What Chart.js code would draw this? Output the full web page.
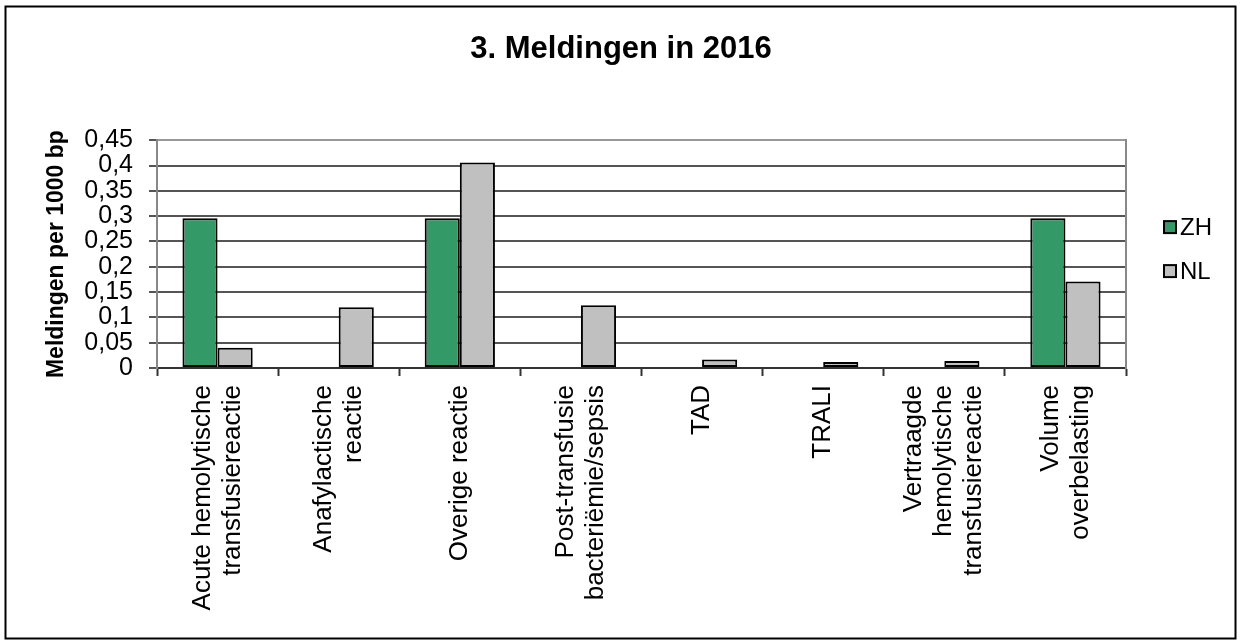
<!DOCTYPE html>
<html>
<head>
<meta charset="utf-8">
<script src="https://cdn.jsdelivr.net/npm/chart.js@4/dist/chart.umd.min.js"></script>
<style>
  html, body { margin: 0; padding: 0; background: #fff; }
</style>
</head>
<body>
<canvas id="meldingenChart" width="1242" height="641"></canvas>
<script>
// data
const categories = [
  ['Acute hemolytische', 'transfusiereactie'],
  ['Anafylactische', 'reactie'],
  ['Overige reactie'],
  ['Post-transfusie', 'bacteriëmie/sepsis'],
  ['TAD'],
  ['TRALI'],
  ['Vertraagde', 'hemolytische', 'transfusiereactie'],
  ['Volume', 'overbelasting']
];
const seriesNames = ['ZH', 'NL'];
const zhValues = [0.296, 0, 0.296, 0, 0, 0, 0, 0.296];
const nlValues = [0.04, 0.12, 0.406, 0.124, 0.017, 0.012, 0.014, 0.171];
const yMax = 0.45;
const yStep = 0.05;

const FONT = '"Liberation Sans", Arial, sans-serif';

const fmt = v => Number(v.toFixed(2)).toString().replace('.', ',');

// outer frame, rotated category labels and the legend
const extras = {
  id: 'extras',
  afterDraw(chart) {
    const ctx = chart.ctx;
    const area = chart.chartArea;
    const xScale = chart.scales.x;
    ctx.save();

    ctx.strokeStyle = '#000';
    ctx.lineWidth = 2;
    ctx.strokeRect(5.5, 6.5, 1230, 632);

    // category labels, rotated, block centred on the category
    ctx.font = '26px ' + FONT;
    ctx.fillStyle = '#000';
    ctx.textAlign = 'right';
    ctx.textBaseline = 'middle';
    const lh = 30;
    categories.forEach((lines, i) => {
      const cx = xScale.getPixelForValue(i);
      ctx.save();
      ctx.translate(cx, area.bottom + 17);
      ctx.rotate(-Math.PI / 2);
      lines.forEach((line, j) => {
        ctx.fillText(line, 0, (j - (lines.length - 1) / 2) * lh);
      });
      ctx.restore();
    });

    // legend
    const midY = (area.top + area.bottom) / 2 - 5;
    ctx.font = '24px ' + FONT;
    ctx.textAlign = 'left';
    chart.data.datasets.forEach((ds, i) => {
      const y = midY + (i - 0.5) * 44;
      ctx.fillStyle = ds.backgroundColor;
      ctx.fillRect(1164, y - 6, 12, 12);
      ctx.strokeStyle = '#000';
      ctx.lineWidth = 2;
      ctx.strokeRect(1164, y - 6, 12, 12);
      ctx.fillStyle = '#000';
      ctx.fillText(ds.label, 1180, y + 1);
    });
    ctx.restore();
  }
};

new Chart(document.getElementById('meldingenChart'), {
  type: 'bar',
  data: {
    labels: categories.map(c => c.join(' ')),
    datasets: [
      {
        label: seriesNames[0],
        data: zhValues,
        backgroundColor: '#339966',
        borderColor: '#000',
        borderWidth: 2,
        borderSkipped: false
      },
      {
        label: seriesNames[1],
        data: nlValues,
        backgroundColor: '#c0c0c0',
        borderColor: '#000',
        borderWidth: 2,
        borderSkipped: false
      }
    ]
  },
  options: {
    responsive: false,
    animation: false,
    devicePixelRatio: 1,
    layout: { padding: 0 },
    datasets: { bar: { categoryPercentage: 0.58, barPercentage: 1 } },
    scales: {
      x: {
        grid: {
          drawOnChartArea: false,
          drawTicks: true,
          tickLength: 8,
          tickColor: '#333',
          tickWidth: 2
        },
        border: { display: true, color: '#333', width: 2 },
        ticks: { display: false },
        afterFit: scale => { scale.height = 641 - 368; }
      },
      y: {
        min: 0,
        max: yMax,
        ticks: {
          stepSize: yStep,
          autoSkip: false,
          padding: 16,
          color: '#000',
          font: { family: FONT, size: 25 },
          callback: v => fmt(v)
        },
        grid: {
          color: c => (c.tick && c.tick.value >= yMax - 1e-9) ? '#999' : '#555',
          lineWidth: 2,
          tickLength: 8,
          tickColor: '#555',
          tickWidth: 2
        },
        border: { display: true, color: '#888', width: 2 },
        title: {
          display: true,
          text: 'Meldingen per 1000 bp',
          color: '#000',
          font: { family: FONT, size: 23, weight: 'bold' },
          padding: { top: 43, bottom: 0 }
        },
        afterFit: scale => { scale.width = 157; }
      },
      // empty right-hand axis: plot edge line and room for the legend
      yRight: {
        position: 'right',
        min: 0,
        max: yMax,
        ticks: { display: false },
        grid: { drawOnChartArea: false, drawTicks: false },
        border: { display: true, color: '#888', width: 2 },
        afterFit: scale => { scale.width = 1242 - 1126; }
      }
    },
    plugins: {
      legend: { display: false },
      tooltip: { enabled: false },
      title: {
        display: true,
        text: '3. Meldingen in 2016',
        color: '#000',
        font: { family: FONT, size: 31, weight: 'bold' },
        padding: { top: 31, bottom: 72 }
      }
    }
  },
  plugins: [extras]
});
</script>
</body>
</html>
